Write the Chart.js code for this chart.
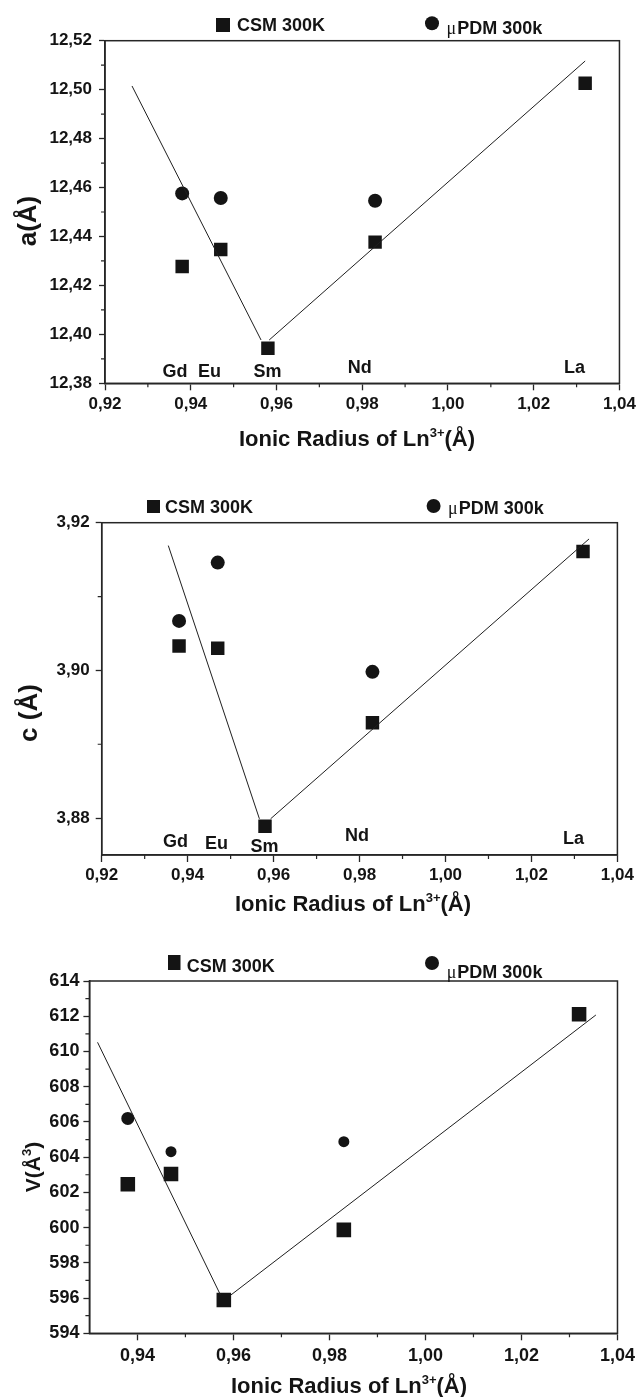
<!DOCTYPE html>
<html>
<head>
<meta charset="utf-8">
<script src="https://cdn.jsdelivr.net/npm/chart.js@4.4.0/dist/chart.umd.min.js"></script>
<style>
  html, body { margin: 0; padding: 0; background: #fff; }
  body { position: relative; width: 640px; height: 1397px; overflow: hidden; }
  canvas { position: absolute; left: 0; }
</style>
</head>
<body>
<canvas id="chartA" width="640" height="462" style="top:0"></canvas>
<canvas id="chartC" width="640" height="458" style="top:462px"></canvas>
<canvas id="chartV" width="640" height="477" style="top:920px"></canvas>
<script>
// Lattice parameters a, c and cell volume V against the Ln3+ ionic radius
const elements = ['Gd', 'Eu', 'Sm', 'Nd', 'La'];
const radius = [0.938, 0.947, 0.958, 0.983, 1.032];
const pdmRadius = [0.938, 0.947, 0.983];   // Gd, Eu, Nd

const csmA = [12.4277, 12.4347, 12.3943, 12.4377, 12.5026];
const pdmA = [12.4576, 12.4557, 12.4546];
const csmC = [3.9033, 3.9030, 3.8789, 3.8929, 3.9161];
const pdmC = [3.9067, 3.9146, 3.8998];
const csmV = [602.46, 603.04, 595.89, 599.87, 612.11];
const pdmV = [606.20, 604.31, 604.88];

// guide lines (two straight segments per panel)
const aFitLeftX = [0.9263, 0.9564], aFitLeftY = [12.5015, 12.3977];
const aFitRightX = [0.9583, 1.0320], aFitRightY = [12.3977, 12.5117];
const cFitLeftX = [0.9355, 0.9567], cFitLeftY = [3.9169, 3.8799];
const cFitRightX = [0.9593, 1.0334], cFitRightY = [3.8799, 3.9178];
const vFitLeftX = [0.9317, 0.9573], vFitLeftY = [610.52, 596.18];
const vFitRightX = [0.9595, 1.0355], vFitRightY = [596.18, 612.07];

// tick values
const xTicksAC = [0.92, 0.94, 0.96, 0.98, 1.00, 1.02, 1.04];
const xTicksV = [0.94, 0.96, 0.98, 1.00, 1.02, 1.04];
const aTicks = [12.38, 12.40, 12.42, 12.44, 12.46, 12.48, 12.50, 12.52];
const cTicks = [3.88, 3.90, 3.92];
const vTicks = [594, 596, 598, 600, 602, 604, 606, 608, 610, 612, 614];

const seriesNames = ['CSM 300K', 'μPDM 300k'];

const FONT = '"Liberation Sans", Arial, Helvetica, sans-serif';
const INK = '#141414';
const AXIS = '#262626';

const comma2 = v => v.toFixed(2).replace('.', ',');
const zip = (xs, ys) => xs.map((x, i) => ({ x, y: ys[i] }));

// draw a string made of normal and superscript parts
function richText(ctx, parts, x, y, size, align) {
  const sup = Math.round(size * 0.6);
  const widths = parts.map(p => {
    ctx.font = `bold ${p.sup ? sup : size}px ${FONT}`;
    return ctx.measureText(p.t).width;
  });
  const total = widths.reduce((s, w) => s + w, 0);
  let cx = align === 'center' ? x - total / 2 : x;
  ctx.textAlign = 'left';
  ctx.textBaseline = 'alphabetic';
  parts.forEach((p, i) => {
    ctx.font = `bold ${p.sup ? sup : size}px ${FONT}`;
    ctx.fillText(p.t, cx, p.sup ? y - size * 0.42 : y);
    cx += widths[i];
  });
}

function minorValues(scale) {
  const t = scale.ticks.map(k => k.value);
  const out = [];
  for (let i = 0; i < t.length - 1; i++) out.push((t[i] + t[i + 1]) / 2);
  return out;
}

const panelDecor = {
  id: 'panelDecor',
  afterDraw(chart, args, o) {
    const ctx = chart.ctx;
    const { left, right, top, bottom } = chart.chartArea;
    const xs = chart.scales.x, ys = chart.scales.y;
    ctx.save();

    // box around the plot
    ctx.strokeStyle = AXIS;
    ctx.lineWidth = 1.5;
    ctx.strokeRect(left, top, right - left, bottom - top);

    // minor ticks
    ctx.lineWidth = 1.2;
    ctx.beginPath();
    minorValues(xs).forEach(v => {
      const px = xs.getPixelForValue(v);
      ctx.moveTo(px, bottom); ctx.lineTo(px, bottom + 4);
    });
    minorValues(ys).forEach(v => {
      const py = ys.getPixelForValue(v);
      ctx.moveTo(left, py); ctx.lineTo(left - 4, py);
    });
    ctx.stroke();

    ctx.fillStyle = INK;

    // element names along the bottom of the plot
    if (o.labels) {
      ctx.font = `bold ${o.labels.size}px ${FONT}`;
      ctx.textAlign = 'center';
      ctx.textBaseline = 'alphabetic';
      elements.forEach((name, i) => {
        const px = xs.getPixelForValue(o.labels.x[i]);
        const py = ys.getPixelForValue(o.labels.y[i]) + o.labels.size * 0.36;
        ctx.fillText(name, px, py);
      });
    }

    // legend
    const lg = o.legend;
    const names = chart.data.datasets.map(d => d.label);
    ctx.fillRect(lg.box.x, lg.box.y, lg.box.w, lg.box.h);
    ctx.beginPath();
    ctx.arc(lg.dot.x, lg.dot.y, lg.dot.r, 0, Math.PI * 2);
    ctx.fill();
    ctx.textAlign = 'left';
    ctx.textBaseline = 'alphabetic';
    ctx.font = `bold ${lg.size}px ${FONT}`;
    ctx.fillText(names[0], lg.csm.x, lg.csm.y);
    // the mu is set in a lighter serif face
    const mu = names[1].charAt(0);
    ctx.font = `${lg.size}px "Liberation Serif", "Times New Roman", serif`;
    ctx.fillText(mu, lg.pdm.x, lg.pdm.y);
    const muW = ctx.measureText(mu).width;
    ctx.font = `bold ${lg.size}px ${FONT}`;
    ctx.fillText(names[1].slice(1), lg.pdm.x + muW + 1, lg.pdm.y);

    // axis titles
    richText(ctx, o.xTitle.parts, o.xTitle.x, o.xTitle.y, o.xTitle.size, 'center');
    ctx.save();
    ctx.translate(o.yTitle.x, o.yTitle.y);
    ctx.rotate(-Math.PI / 2);
    richText(ctx, o.yTitle.parts, 0, 0, o.yTitle.size, 'center');
    ctx.restore();

    ctx.restore();
  }
};

const ionicTitle = [{ t: 'Ionic Radius of Ln' }, { t: '3+', sup: true }, { t: '(Å)' }];

function makePanel(id, p) {
  const tickFont = { family: FONT, size: p.tickSize, weight: 'bold' };
  const fitLine = pts => ({
    data: pts, showLine: true, pointRadius: 0, borderColor: '#1e1e1e',
    borderWidth: 1, fill: false
  });
  return new Chart(document.getElementById(id), {
    type: 'scatter',
    data: {
      datasets: [
        {
          label: seriesNames[0], data: zip(radius, p.csm), pointStyle: 'rect',
          pointRadius: p.rectR, backgroundColor: INK, borderWidth: 0, order: 1
        },
        {
          label: seriesNames[1], data: zip(pdmRadius, p.pdm), pointStyle: 'circle',
          pointRadius: p.dotR, backgroundColor: INK, borderWidth: 0, order: 1
        },
        fitLine(p.fitLeft), fitLine(p.fitRight)
      ]
    },
    options: {
      responsive: false,
      animation: false,
      devicePixelRatio: 1,
      layout: { padding: { left: 0, right: p.padRight, top: p.padTop, bottom: 0 } },
      plugins: {
        legend: { display: false },
        tooltip: { enabled: false },
        panelDecor: p.decor
      },
      scales: {
        x: {
          type: 'linear', min: p.xMin, max: 1.04,
          afterBuildTicks: s => { s.ticks = p.xTicks.map(v => ({ value: v })); },
          afterFit: s => { s.height = p.xHeight; },
          ticks: { font: tickFont, color: INK, padding: p.xPad, maxRotation: 0, callback: v => comma2(v) },
          grid: { drawOnChartArea: false, tickLength: 7, tickColor: AXIS, tickWidth: 1.3 },
          border: { color: AXIS, width: 1.5 }
        },
        y: {
          type: 'linear', min: p.yMin, max: p.yMax,
          afterBuildTicks: s => { s.ticks = p.yTicks.map(v => ({ value: v })); },
          afterFit: s => { s.width = p.yWidth; },
          ticks: { font: tickFont, color: INK, padding: p.yPad, callback: p.fmtY },
          grid: { drawOnChartArea: false, tickLength: 6, tickColor: AXIS, tickWidth: 1.3 },
          border: { color: AXIS, width: 1.5 }
        }
      }
    },
    plugins: [panelDecor]
  });
}

makePanel('chartA', {
  csm: csmA, pdm: pdmA,
  fitLeft: zip(aFitLeftX, aFitLeftY), fitRight: zip(aFitRightX, aFitRightY),
  xMin: 0.92, xTicks: xTicksAC, yMin: 12.38, yMax: 12.52, yTicks: aTicks, fmtY: v => comma2(v),
  tickSize: 17, xPad: 4, yPad: 7, rectR: 9.5, dotR: 7,
  padRight: 19, padTop: 40.7, yWidth: 105, xHeight: 78.7,
  decor: {
    legend: { size: 18, box: { x: 216, y: 18, w: 14, h: 14 }, csm: { x: 237, y: 31.4 },
              dot: { x: 432, y: 23.3, r: 7 }, pdm: { x: 446.5, y: 34.1 } },
    labels: { size: 18, x: [0.9363, 0.9444, 0.9579, 0.9794, 1.0295],
              y: [12.3854, 12.3854, 12.3854, 12.3868, 12.3868] },
    xTitle: { parts: ionicTitle, x: 357, y: 446, size: 22 },
    yTitle: { parts: [{ t: 'a(Å)' }], x: 36, y: 221, size: 26 }
  }
});

makePanel('chartC', {
  csm: csmC, pdm: pdmC,
  fitLeft: zip(cFitLeftX, cFitLeftY), fitRight: zip(cFitRightX, cFitRightY),
  xMin: 0.92, xTicks: xTicksAC, yMin: 3.875, yMax: 3.92, yTicks: cTicks, fmtY: v => comma2(v),
  tickSize: 17, xPad: 3.5, yPad: 6, rectR: 9.5, dotR: 7,
  padRight: 22.6, padTop: 60.7, yWidth: 101.7, xHeight: 65,
  decor: {
    legend: { size: 18, box: { x: 147, y: 38, w: 13, h: 13 }, csm: { x: 165, y: 51.4 },
              dot: { x: 433.6, y: 44, r: 7 }, pdm: { x: 448, y: 52.4 } },
    labels: { size: 18, x: [0.9372, 0.9467, 0.9579, 0.9794, 1.0298],
              y: [3.8769, 3.8767, 3.8763, 3.8778, 3.8773] },
    xTitle: { parts: ionicTitle, x: 353, y: 449, size: 22 },
    yTitle: { parts: [{ t: 'c (Å)' }], x: 37, y: 251, size: 26 }
  }
});

makePanel('chartV', {
  csm: csmV, pdm: pdmV,
  fitLeft: zip(vFitLeftX, vFitLeftY), fitRight: zip(vFitRightX, vFitRightY),
  xMin: 0.93, xTicks: xTicksV, yMin: 594, yMax: 614, yTicks: vTicks, fmtY: v => String(v),
  tickSize: 18, xPad: 5, yPad: 4, rectR: 10.3, dotR: [6.5, 5.5, 5.5],
  padRight: 20.5, padTop: 61, yWidth: 89.4, xHeight: 63.7,
  decor: {
    legend: { size: 18, box: { x: 168, y: 35, w: 12.5, h: 15 }, csm: { x: 186.7, y: 52.4 },
              dot: { x: 432, y: 43, r: 7 }, pdm: { x: 446.7, y: 58.4 } },
    xTitle: { parts: ionicTitle, x: 349, y: 473, size: 22 },
    yTitle: { parts: [{ t: 'V(Å' }, { t: '3', sup: true }, { t: ')' }], x: 40, y: 247, size: 21 }
  }
});
</script>
</body>
</html>
